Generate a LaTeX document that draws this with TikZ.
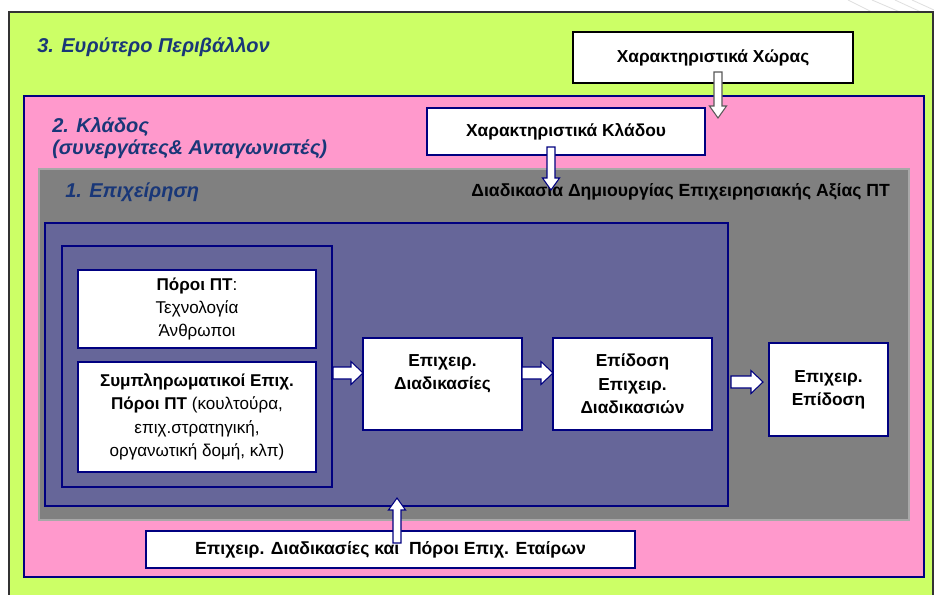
\documentclass[tikz,border=0pt]{standalone}
\usepackage{fontspec}
\setmainfont{Liberation Sans}
\usetikzlibrary{calc}
\definecolor{envgreen}{HTML}{CCFF66}
\definecolor{sectpink}{HTML}{FF99CC}
\definecolor{firmgray}{HTML}{808080}
\definecolor{grayedge}{HTML}{A8A8A8}
\definecolor{procpurple}{HTML}{666699}
\definecolor{edgenavy}{HTML}{000080}
\definecolor{titleblue}{RGB}{25,55,120}
\tikzset{
  panel/.style={line width=0.9pt, inner sep=0pt, outer sep=0pt, anchor=north west},
  whitebox/.style={draw=edgenavy, fill=white, line width=1pt, anchor=north west,
    inner sep=1pt, outer sep=0pt, align=center,
    font=\bfseries\fontsize{13}{17.5}\selectfont},
  softbox/.style={whitebox, font=\mdseries\fontsize{12.8}{17.5}\selectfont},
  ttl/.style={font=\bfseries\itshape\fontsize{15}{17}\selectfont, text=titleblue,
    inner sep=0pt, anchor=base west},
  fatarrow/.style={draw=edgenavy, fill=white, line width=0.8pt, line join=miter},
  grayarrow/.style={fatarrow, draw=gray!70!black},
}
% box with corners (x1,y1)-(x2,y2) in pixel units
\newcommand\rbox[6]{\node[#6, minimum width={(#4-#2)*0.75pt}, minimum height={(#5-#3)*0.75pt}] (#1) at (#2,#3)}
% horizontal block arrow from #2 to #3 (tip), style #1
\newcommand\harrow[3]{\filldraw[#1] let \p1=(#2), \p2=(#3) in
  ({\x1},{\y1+4.5pt}) -- ({\x2-9pt},{\y1+4.5pt}) -- ({\x2-9pt},{\y1+8.6pt}) -- ({\x2},{\y1})
  -- ({\x2-9pt},{\y1-8.6pt}) -- ({\x2-9pt},{\y1-4.5pt}) -- ({\x1},{\y1-4.5pt}) -- cycle;}
% vertical block arrow from #2 to #3 (tip), #4 = 1 down, -1 up
\newcommand\varrow[4]{\filldraw[#1] let \p1=(#2), \p2=(#3) in
  ({\x1-3pt},{\y1}) -- ({\x1-3pt},{\y2+9pt*(#4)}) -- ({\x1-6.4pt},{\y2+9pt*(#4)}) -- ({\x1},{\y2})
  -- ({\x1+6.4pt},{\y2+9pt*(#4)}) -- ({\x1+3pt},{\y2+9pt*(#4)}) -- ({\x1+3pt},{\y1}) -- cycle;}
\begin{document}
\begin{tikzpicture}[x=0.75pt,y=-0.75pt]
\clip (0,0) rectangle (934,594);
\useasboundingbox (0,0) rectangle (934,594);
\fill[white] (0,0) rectangle (934,594);
% faint page curl at top right
\draw[gray!25, line width=0.6pt] (848,0) -- (872,12) (872,0) -- (900,12) (895,0) -- (934,18) (912,0) -- (934,10);
% nested panels
\rbox{env}{9}{12}{933}{620}{panel, draw=black!80, fill=envgreen} {};
\rbox{sector}{24}{96}{924}{577}{panel, draw=edgenavy, fill=sectpink} {};
\rbox{firm}{39}{169}{909}{520}{panel, draw=grayedge, line width=1.2pt, fill=firmgray} {};
\rbox{proc}{45}{223}{728}{506}{panel, draw=edgenavy, fill=procpurple} {};
\rbox{res}{62}{246}{332}{487}{panel, draw=edgenavy, fill=procpurple} {};
% titles
\node[ttl] (t3) at (37,52) {3. Ευρύτερο Περιβάλλον};
\node[ttl] (t2a) at (52,132) {2. Κλάδος};
\node[ttl] (t2b) at (52,154) {(συνεργάτες\& Ανταγωνιστές)};
\node[ttl] (t1) at (65,197) {1. Επιχείρηση};
\node[font=\bfseries\fontsize{13.2}{15}\selectfont, inner sep=0pt, anchor=base east] (tproc) at (890,196)
  {Διαδικασία Δημιουργίας Επιχειρησιακής Αξίας ΠΤ};
% boxes
\rbox{xwras}{573}{32}{853}{83}{whitebox, draw=black} {Χαρακτηριστικά Χώρας};
\rbox{kladou}{427}{108}{705}{155}{whitebox} {Χαρακτηριστικά Κλάδου};
\rbox{poroi}{78}{270}{316}{348}{softbox} {\textbf{Πόροι ΠΤ}:\\Τεχνολογία\\Άνθρωποι};
\rbox{sympl}{78}{362}{316}{472}{softbox} {\textbf{Συμπληρωματικοί Επιχ.}\\\textbf{Πόροι ΠΤ} (κουλτούρα,\\επιχ.στρατηγική,\\οργανωτική δομή, κλπ)};
\rbox{bproc}{363}{338}{522}{430}{whitebox} {Επιχειρ.\\Διαδικασίες\\\mbox{}};
\rbox{bperf}{553}{338}{712}{430}{whitebox} {Επίδοση\\Επιχειρ.\\Διαδικασιών};
\rbox{fperf}{769}{343}{888}{436}{whitebox} {Επιχειρ.\\Επίδοση};
\rbox{partners}{146}{531}{635}{568}{whitebox, font=\bfseries\fontsize{13.2}{15}\selectfont} {Επιχειρ. Διαδικασίες και~ Πόροι Επιχ. Εταίρων};
% arrow end points
\coordinate (xwtip) at (718,118);
\coordinate (kltip) at (551,190);
\coordinate (ptip) at (397,498);
% connectors
\harrow{fatarrow}{$(res.east|-bproc.west)+(1,-11)$}{$(bproc.west)+(0,-11)$}
\harrow{fatarrow}{$(bproc.east)+(0,-11)$}{$(bperf.west)+(0,-11)$}
\harrow{fatarrow}{$(proc.east|-fperf.west)+(3,-7.5)$}{$(fperf.west)+(-6,-7.5)$}
\varrow{grayarrow}{$(xwras.south)+(5,-11)$}{xwtip}{1}
\varrow{fatarrow}{$(kladou.south)+(-15,-8)$}{kltip}{1}
\varrow{fatarrow}{$(partners.north)+(6.5,12)$}{ptip}{-1}
\end{tikzpicture}
\end{document}
